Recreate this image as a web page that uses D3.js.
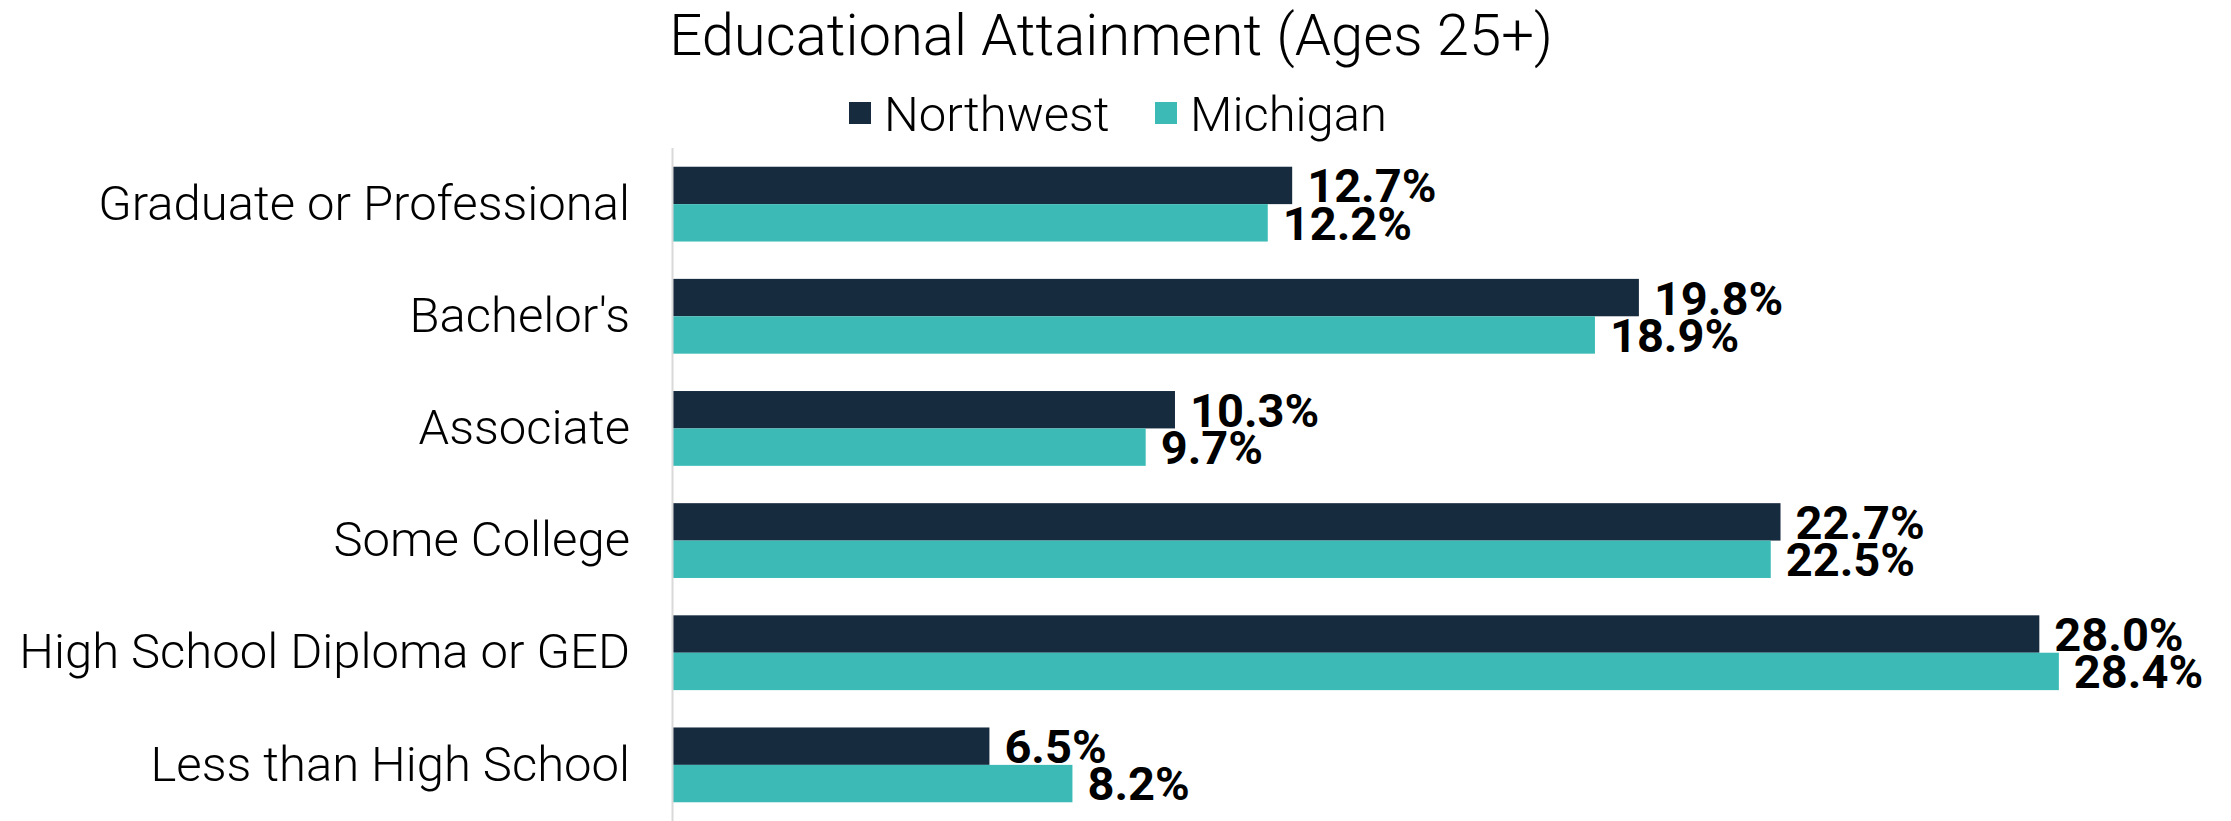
<!DOCTYPE html>
<html>
<head>
<meta charset="utf-8">
<script src="https://cdn.jsdelivr.net/npm/d3@7"></script>
<style>
    body { margin: 0; background: #ffffff; }
    #chart-area { width: 2231px; height: 821px; }
    text { font-family: Roboto, "Noto Sans", sans-serif; }
</style>
</head>
<body>
<div id="chart-area"></div>
<script>

// data
let categories = ["Graduate or Professional", "Bachelor's", "Associate", "Some College", "High School Diploma or GED", "Less than High School"];
let seriesNames = ["Northwest", "Michigan"];
let northwestValues = [12.7, 19.8, 10.3, 22.7, 28.0, 6.5];
let michiganValues = [12.2, 18.9, 9.7, 22.5, 28.4, 8.2];
let seriesColors = ["#172b3f", "#3cbbb6"];
let chartTitle = "Educational Attainment (Ages 25+)";


/* * * * * * * * * * * * * *
*     class GroupedBars     *
* * * * * * * * * * * * * */

class GroupedBars {

    constructor(parentElement){
        this.parentElement = parentElement;

        // one row per category, both series side by side
        this.displayData = categories.map((c, i) => ({
            category: c,
            values: [
                {series: seriesNames[0], value: northwestValues[i]},
                {series: seriesNames[1], value: michiganValues[i]}
            ]
        }));

        this.initVis();
    }

    initVis(){
        let vis = this;

        vis.margin = {top: 148, right: 94, bottom: 0, left: 672};
        vis.totalWidth = 2231;
        vis.totalHeight = 821;
        vis.width = vis.totalWidth - vis.margin.left - vis.margin.right;
        vis.height = vis.totalHeight - vis.margin.top - vis.margin.bottom;

        vis.root = d3.select("#" + vis.parentElement).append("svg")
            .attr("width", vis.totalWidth)
            .attr("height", vis.totalHeight);

        vis.svg = vis.root.append("g")
            .attr("transform", `translate(${vis.margin.left}, ${vis.margin.top})`);

        // title
        vis.root.append("text")
            .attr("x", 1111)
            .attr("y", 55)
            .attr("text-anchor", "middle")
            .attr("font-size", 58)
            .attr("font-weight", 300)
            .attr("fill", "#000")
            .text(chartTitle);

        // legend
        vis.legend = vis.root.append("g")
            .attr("transform", "translate(849, 102)");

        let legendX = [0, 306];
        seriesNames.forEach((name, i) => {
            let item = vis.legend.append("g")
                .attr("transform", `translate(${legendX[i]}, 0)`);
            item.append("rect")
                .attr("width", 22)
                .attr("height", 22)
                .attr("fill", seriesColors[i]);
            item.append("text")
                .attr("x", 35)
                .attr("y", 11)
                .attr("dy", "0.36em")
                .attr("font-size", 49)
                .attr("font-weight", 300)
                .attr("fill", "#000")
                .text(name);
        });

        // scales
        vis.y = d3.scaleBand()
            .domain(categories)
            .range([0, vis.height])
            .paddingInner(0.333)
            .paddingOuter(0.167);

        vis.ySub = d3.scaleBand()
            .domain(seriesNames)
            .range([0, vis.y.bandwidth()]);

        vis.x = d3.scaleLinear()
            .domain([0, 30])
            .range([0, vis.width]);

        vis.color = d3.scaleOrdinal()
            .domain(seriesNames)
            .range(seriesColors);

        vis.yAxis = d3.axisLeft(vis.y)
            .tickSize(0)
            .tickPadding(42);

        vis.updateVis();
    }

    updateVis(){
        let vis = this;

        let groups = vis.svg.selectAll(".group")
            .data(vis.displayData)
            .enter().append("g")
            .attr("class", "group")
            .attr("transform", d => `translate(0, ${vis.y(d.category)})`);

        groups.selectAll("rect")
            .data(d => d.values)
            .enter().append("rect")
            .attr("x", 0)
            .attr("y", d => vis.ySub(d.series))
            .attr("width", d => vis.x(d.value))
            .attr("height", vis.ySub.bandwidth())
            .attr("fill", d => vis.color(d.series));

        groups.selectAll(".bar-label")
            .data(d => d.values)
            .enter().append("text")
            .attr("class", "bar-label")
            .attr("x", d => vis.x(d.value) + 15)
            .attr("y", d => vis.ySub(d.series) + vis.ySub.bandwidth() / 2)
            .attr("dy", "0.36em")
            .attr("font-size", 47)
            .attr("font-weight", 700)
            .attr("fill", "#000")
            .text(d => d.value.toFixed(1) + "%");

        // category axis
        let axisGroup = vis.svg.append("g")
            .attr("class", "y-axis")
            .call(vis.yAxis);

        axisGroup.select(".domain").remove();
        axisGroup.selectAll("text")
            .attr("font-size", 49)
            .attr("font-weight", 300)
            .attr("fill", "#000")
            .attr("font-family", "Roboto, 'Noto Sans', sans-serif");

        vis.svg.append("line")
            .attr("x1", 0.5)
            .attr("x2", 0.5)
            .attr("y1", 0)
            .attr("y2", vis.height)
            .attr("stroke", "#d9d9d9")
            .attr("stroke-width", 2);
    }
}

let barVis = new GroupedBars("chart-area");

</script>
</body>
</html>
